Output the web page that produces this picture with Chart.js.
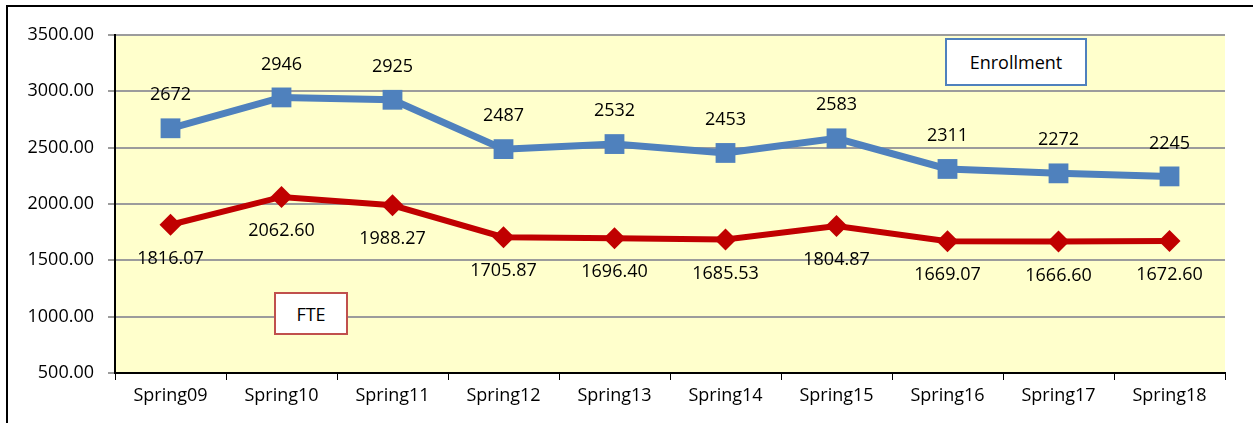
<!DOCTYPE html>
<html>
<head>
<meta charset="utf-8">
<script src="https://cdn.jsdelivr.net/npm/chart.js@4/dist/chart.umd.min.js"></script>
<style>
    html, body { margin: 0; padding: 0; background: #fff; }
    #wrap { position: relative; width: 1253px; height: 423px; overflow: hidden; }
    #frame { position: absolute; left: 6px; top: 5px; right: -10px; bottom: -10px;
             border-left: 2px solid #000; border-top: 2px solid #000; }
    #chart { position: absolute; left: 0; top: 0; }
    .tag { position: absolute; background: #fff; font-family: "Open Sans", sans-serif;
           font-size: 18px; color: #000; display: flex; align-items: center;
           justify-content: center; box-sizing: border-box; }
    #tagEnroll { left: 945px; top: 38px; width: 142px; height: 48px; border: 2px solid #4F81BD; }
    #tagFte { left: 274px; top: 292px; width: 74px; height: 43px; border: 2px solid #C0504D; }
</style>
</head>
<body>
<div id="wrap">
    <div id="frame"></div>
    <canvas id="chart" width="1253" height="423"></canvas>
    <div class="tag" id="tagEnroll">Enrollment</div>
    <div class="tag" id="tagFte">FTE</div>
</div>
<script>
const semesters = ["Spring09", "Spring10", "Spring11", "Spring12", "Spring13",
                   "Spring14", "Spring15", "Spring16", "Spring17", "Spring18"];
const enrollment = [2672, 2946, 2925, 2487, 2532, 2453, 2583, 2311, 2272, 2245];
const fte = [1816.07, 2062.60, 1988.27, 1705.87, 1696.40, 1685.53, 1804.87, 1669.07, 1666.60, 1672.60];
const yTicks = [500, 1000, 1500, 2000, 2500, 3000, 3500];

const FONT = "'Open Sans', sans-serif";

// fond jaune de la zone du graphique
const plotBackground = {
    id: "plotBackground",
    beforeDraw(chart) {
        const { ctx, chartArea } = chart;
        ctx.save();
        ctx.fillStyle = "#FFFFCC";
        ctx.fillRect(chartArea.left, chartArea.top, chartArea.right - chartArea.left, chartArea.bottom - chartArea.top);
        ctx.restore();
    }
};

// étiquettes des valeurs (au-dessus pour Enrollment, en dessous pour FTE)
const valueLabels = {
    id: "valueLabels",
    afterDatasetsDraw(chart) {
        const ctx = chart.ctx;
        ctx.save();
        ctx.font = "18px " + FONT;
        ctx.fillStyle = "#000";
        ctx.textAlign = "center";
        ctx.textBaseline = "middle";
        chart.data.datasets.forEach((ds, i) => {
            const meta = chart.getDatasetMeta(i);
            meta.data.forEach((pt, j) => {
                const v = ds.data[j];
                const txt = i === 0 ? String(v) : v.toFixed(2);
                const dy = i === 0 ? -33 : 34;
                ctx.fillText(txt, pt.x, pt.y + dy);
            });
        });
        ctx.restore();
    }
};

new Chart(document.getElementById("chart"), {
    type: "line",
    data: {
        labels: semesters,
        datasets: [{
            label: "Enrollment",
            data: enrollment,
            borderColor: "#4F81BD",
            backgroundColor: "#4F81BD",
            borderWidth: 7,
            pointStyle: "rect",
            pointRadius: 14,
            pointHoverRadius: 14,
            pointBorderWidth: 0,
            tension: 0
        }, {
            label: "FTE",
            data: fte,
            borderColor: "#C00000",
            backgroundColor: "#C00000",
            borderWidth: 6,
            pointStyle: "rectRot",
            pointRadius: 11,
            pointHoverRadius: 11,
            pointBorderWidth: 0,
            tension: 0
        }]
    },
    options: {
        responsive: false,
        animation: false,
        layout: { padding: { left: 0, top: 35, right: 28, bottom: 0 } },
        plugins: {
            legend: { display: false },
            tooltip: { enabled: false }
        },
        scales: {
            x: {
                offset: true,
                grid: { offset: true, drawOnChartArea: false, drawTicks: true, tickLength: 7, color: "#000", tickColor: "#000" },
                border: { color: "#000", width: 2 },
                ticks: { color: "#000", font: { family: FONT, size: 18 }, padding: 5, maxRotation: 0 },
                afterFit(scale) { scale.height = 50; }
            },
            y: {
                min: 500,
                max: 3500,
                afterBuildTicks(scale) { scale.ticks = yTicks.map(v => ({ value: v })); },
                grid: { color: "#9C9C9C", lineWidth: 2, tickLength: 7, tickColor: "#9C9C9C" },
                border: { color: "#000", width: 2 },
                ticks: {
                    color: "#000",
                    font: { family: FONT, size: 18 },
                    padding: 14,
                    callback: v => Number(v).toFixed(2)
                },
                afterFit(scale) { scale.width = 115; }
            }
        }
    },
    plugins: [plotBackground, valueLabels]
});
</script>
</body>
</html>
